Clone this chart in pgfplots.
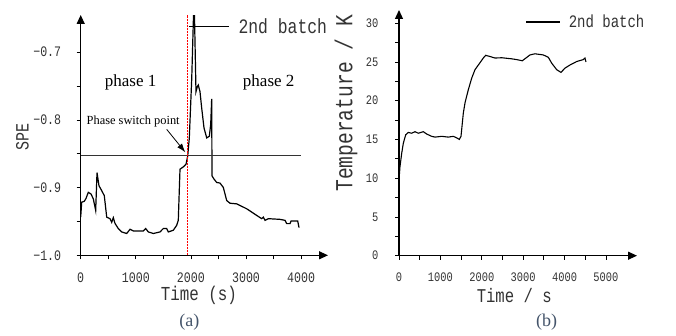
\documentclass[border=0pt]{standalone}
\usepackage{fontspec}
\setmainfont{Liberation Serif}
\setmonofont{Liberation Mono}
\usepackage{graphicx}
\usepackage{pgfplots}
\pgfplotsset{compat=1.18}
\usetikzlibrary{arrows.meta}
\definecolor{txt}{HTML}{333333}
\definecolor{capc}{HTML}{44546A}
\newcommand{\mf}[1]{\ttfamily\fontsize{#1}{#1}\selectfont}
\newcommand{\nx}[1]{\scalebox{0.8}[1]{#1}}
\pgfplotsset{
 myaxis/.style={
  scale only axis, axis lines=left, clip=false,
  x axis line style={line width=1.2pt,-{Triangle[length=9pt,width=8pt]}},
  y axis line style={line width=1.2pt,-{Triangle[length=9pt,width=8pt]}},
  tick align=outside, major tick length=4pt, minor tick length=4pt,
  tick style={black,line width=0.8pt},
  tick label style={text=txt},
  legend cell align=left,
  legend image code/.code={\draw[#1] (0pt,0pt) -- (40pt,0pt); \path (49pt,0pt);},
 }
}
\begin{document}
\begin{tikzpicture}[x=1pt,y=1pt]
\useasboundingbox (0,0) rectangle (676,336);
% ---------------- panel (a)
\begin{axis}[myaxis, at={(80.7pt,80.7pt)}, anchor=south west,
  width=247.3pt, height=240.3pt,
  xmin=0, xmax=4488, ymin=-1, ymax=-0.645,
  xtick={0,1000,2000,3000,4000}, xticklabels={\nx{0},\nx{1000},\nx{2000},\nx{3000},\nx{4000}},
  minor xtick={500,1500,2500,3500},
  ytick={-1,-0.9,-0.8,-0.7}, yticklabels={\nx{−1.0},\nx{−0.9},\nx{−0.8},\nx{−0.7}},
  minor ytick={-0.95,-0.85,-0.75},
  xticklabel style={font=\mf{14.5}, yshift=-10pt},
  yticklabel style={font=\mf{14.5}, xshift=-12pt},
  xlabel={\nx{Time (s)}}, xlabel style={font=\mf{19.8}, text=txt, at={(axis description cs:0.478,-0.166)}, anchor=center},
  ylabel={\nx{SPE}}, ylabel style={font=\mf{18.75}, text=txt, at={(axis description cs:-0.236,0.494)}, anchor=center},
  legend style={at={(axis cs:1953,-0.662)}, anchor=west, draw=none, fill=none,
    inner sep=0pt, outer sep=0pt, font=\mf{20.5}, text=txt, nodes={inner sep=0pt}},
]
\addplot[black, line width=1.2pt] coordinates {
(0,-0.9436) (18,-0.9216) (65,-0.9202) (96,-0.916) (138,-0.907) (187,-0.9094)
(229,-0.9167) (272,-0.9338) (296,-0.8778) (332,-0.8972) (381,-0.9045) (428,-0.9118)
(472,-0.9436) (532,-0.9459) (563,-0.9513) (592,-0.9444) (622,-0.9528) (682,-0.9605)
(744,-0.9655) (835,-0.9678) (895,-0.9616) (955,-0.964) (1136,-0.964) (1180,-0.9605)
(1227,-0.9655) (1318,-0.9678) (1439,-0.9655) (1499,-0.9605) (1561,-0.9605) (1590,-0.9655)
(1681,-0.963) (1742,-0.9557) (1771,-0.9484) (1802,-0.8728) (1862,-0.8694) (1911,-0.8655)
(1942,-0.8534) (1971,-0.8266) (2015,-0.7389) (2047,-0.646) (2065,-0.646) (2092,-0.7583)
(2116,-0.751) (2134,-0.7485) (2165,-0.7583) (2196,-0.7827) (2238,-0.812) (2287,-0.8266)
(2334,-0.8241) (2359,-0.807) (2377,-0.769) (2383,-0.8826) (2419,-0.8874) (2468,-0.8924)
(2528,-0.8933) (2588,-0.8997) (2650,-0.9192) (2710,-0.9231) (2831,-0.924) (3013,-0.9313)
(3194,-0.9411) (3285,-0.9459) (3314,-0.9436) (3345,-0.9484) (3405,-0.9459) (3617,-0.9469)
(3708,-0.9484) (3739,-0.9532) (3799,-0.9532) (3817,-0.9494) (3938,-0.9494) (3962,-0.9591)
};
\addlegendentry{\nx{2nd batch}}
\addplot[forget plot, black!80, line width=0.9pt] coordinates {(0,-0.852) (4000,-0.852)};
\addplot[forget plot, color=red, line width=1pt, dash pattern=on 2pt off 1pt] coordinates {(1942,-1) (1942,-0.645)};
\node[font=\fontsize{17}{17}\selectfont] at (axis cs:907,-0.744) {phase 1};
\node[font=\fontsize{17}{17}\selectfont] at (axis cs:3412,-0.744) {phase 2};
\node[font=\fontsize{12.4}{12.4}\selectfont] at (axis cs:952,-0.802) {Phase switch point};
\draw[black, line width=0.8pt, -{Latex[length=9pt,width=6pt]}] (axis cs:1561,-0.814) -- (axis cs:1900,-0.848);
\end{axis}
\node[font=\fontsize{18}{18}\selectfont, text=capc] at (189.3,14.3) {(a)};
% ---------------- panel (b)
\begin{axis}[myaxis, at={(399pt,80.3pt)}, anchor=south west,
  width=238pt, height=245.7pt,
  xmin=0, xmax=5750, ymin=0, ymax=31.7,
  xtick={0,1000,2000,3000,4000,5000}, xticklabels={\nx{0},\nx{1000},\nx{2000},\nx{3000},\nx{4000},\nx{5000}},
  minor xtick={500,1500,2500,3500,4500},
  ytick={0,5,10,15,20,25,30}, yticklabels={\nx{0},\nx{5},\nx{10},\nx{15},\nx{20},\nx{25},\nx{30}},
  minor ytick={2.5,7.5,12.5,17.5,22.5,27.5},
  xticklabel style={font=\mf{13}, yshift=-10pt},
  yticklabel style={font=\mf{13}, xshift=-13pt},
  xlabel={\nx{Time / s}}, xlabel style={font=\mf{19.5}, text=txt, at={(axis description cs:0.484,-0.162)}, anchor=center},
  ylabel={\nx{Temperature / K}}, ylabel style={font=\mf{24.5}, text=txt, at={(axis description cs:-0.223,0.62)}, anchor=center},
  legend style={at={(axis cs:3060,30.15)}, anchor=west, draw=none, fill=none,
    inner sep=0pt, outer sep=0pt, font=\mf{17.5}, text=txt, nodes={inner sep=0pt}},
  legend image code/.code={\draw[#1] (0pt,0pt) -- (34pt,0pt); \path (42pt,0pt);},
]
\addplot[black, line width=1.1pt] coordinates {
(0,9.78) (24,11.5) (65,13.2) (104,14.5) (162,15.6) (225,15.9) (307,15.8) (386,16.0)
(466,15.8) (587,16.0) (668,15.7) (789,15.4) (870,15.3) (1031,15.4) (1191,15.3)
(1312,15.4) (1394,15.2) (1457,15.0) (1498,15.4) (1522,16.7) (1554,18.4) (1594,19.7)
(1674,21.4) (1756,22.9) (1836,24.0) (1957,24.9) (2036,25.5) (2094,25.85) (2198,25.7)
(2319,25.5) (2481,25.54) (2722,25.4) (2843,25.3) (2979,25.15) (3164,25.9) (3285,26.05)
(3486,25.9) (3607,25.6) (3688,24.85) (3809,24.0) (3913,23.65) (4010,24.2) (4130,24.6)
(4292,25.05) (4452,25.3) (4493,25.5) (4517,25.0)
};
\addlegendentry{\nx{2nd batch}}
\end{axis}
\node[font=\fontsize{18}{18}\selectfont, text=capc] at (546.7,14.3) {(b)};
\end{tikzpicture}
\end{document}
